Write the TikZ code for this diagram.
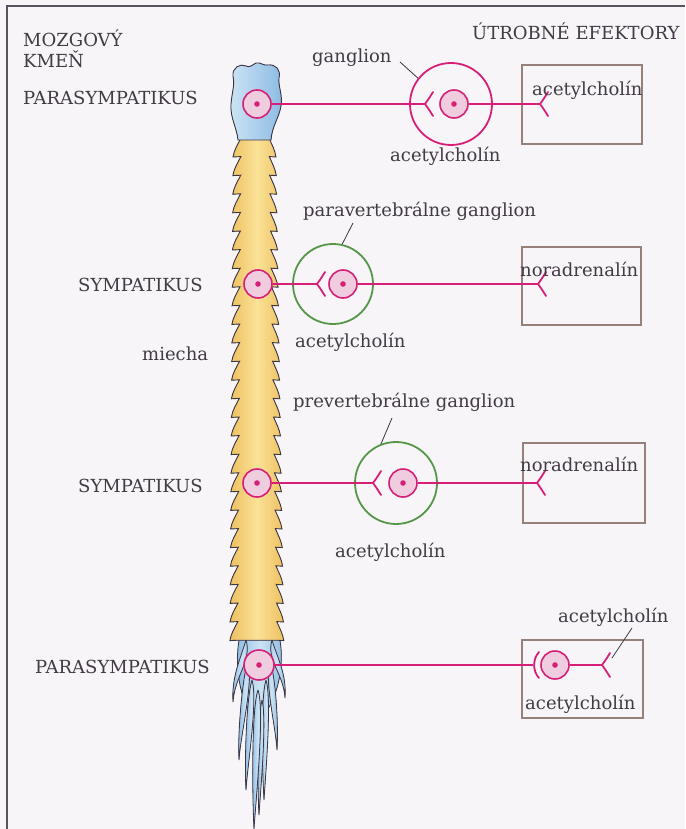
\documentclass[tikz,border=0pt]{standalone}
\usepackage{fontspec}
\setmainfont{DejaVu Serif}
\usepackage{xcolor}
\usepackage{tikz}
\definecolor{nvmagenta}{RGB}{214, 32, 120}
\definecolor{nvpink}{RGB}{240, 205, 222}
\definecolor{nvgreen}{RGB}{86, 150, 72}
\definecolor{nvbox}{RGB}{150, 128, 122}
\definecolor{nvtext}{RGB}{66, 58, 68}
\definecolor{nvline}{RGB}{58, 54, 68}
\definecolor{cordlight}{RGB}{250, 226, 152}
\definecolor{corddark}{RGB}{238, 192, 96}
\definecolor{stemlight}{RGB}{204, 228, 244}
\definecolor{stemdark}{RGB}{140, 186, 228}
\definecolor{paper}{RGB}{247, 245, 247}

\begin{document}
\begin{tikzpicture}[x=1pt, y=-1pt,
  lbl/.style={anchor=base west, inner sep=0pt, text=nvtext, font=\fontsize{18}{20}\selectfont},
  cell/.style={circle, draw=nvmagenta, fill=nvpink, line width=1.6pt, minimum size=28pt, inner sep=0pt},
  ganglion/.style={circle, line width=1.8pt, minimum size=80pt, inner sep=0pt},
  effbox/.style={draw=nvbox, line width=1.2pt, inner sep=0pt},
  axon/.style={nvmagenta, line width=1.8pt},
  leader/.style={nvline, line width=0.8pt},
  cauda/.style={draw=nvline, line width=0.8pt, left color=stemdark, right color=stemdark, middle color=stemlight},
  synfork/.pic={\draw[axon, line cap=round] (8,-12) .. controls (3,-4) .. (0,0) .. controls (3,4) .. (8,12);},
  synbracket/.pic={\draw[axon, line cap=round] (6,-13) .. controls (-0.5,-6) and (-0.5,6) .. (6,13);}]
\useasboundingbox (0,0) rectangle (685,829);
\fill[paper] (0,0) rectangle (685,829);
\draw[nvline!85, line width=1.2pt] (7,829) -- (7,6) -- (685,6);

% Cauda equina
\filldraw[cauda] (241,632) .. controls (235,650) and (236,690) .. (250,712)
  -- (266,712) .. controls (281,690) and (285,655) .. (278,632) -- cycle;
\foreach \xa/\ya/\xb/\yb/\w in {246/640/233/702/6, 272/640/285/698/6,
                                248/660/239/760/6, 270/660/277/750/6,
                                252/680/246/790/6, 266/680/264/800/6,
                                262/700/259/815/5, 258/690/254/829/7} {
  \filldraw[cauda] (\xa,\ya) .. controls ({\xa-\w},{\ya+20}) and ({\xb-1.5},{\yb-25}) .. (\xb,\yb)
    .. controls ({\xb+1.5},{\yb-25}) and ({\xa+\w},{\ya+20}) .. (\xa,\ya);
}

% Spinal cord, barbed edges
\filldraw[draw=nvline, line width=0.9pt, left color=corddark, right color=corddark, middle color=cordlight]
  (241,138)
  \foreach \i in {0,...,26} {
    .. controls ({241-0.12*\i-3},{138+18.6*\i+6}) and ({241-0.12*\i-7},{138+18.6*\i+12})
    .. ({241-0.12*\i-8},{138+18.6*\i+19})
    -- ({241-0.12*(\i+1)},{138+18.6*(\i+1)})
  }
  -- ({269+0.3*27},{138+18.6*27})
  \foreach \i in {26,25,...,0} {
    -- ({269+0.3*\i+7},{138+18.6*\i+19})
    .. controls ({269+0.3*\i+6},{138+18.6*\i+12}) and ({269+0.3*\i+2.5},{138+18.6*\i+6})
    .. ({269+0.3*\i},{138+18.6*\i})
  }
  -- cycle;

% Brain stem
\filldraw[draw=nvline, line width=0.9pt, left color=stemlight, right color=stemdark]
  (238,140) .. controls (237,128) and (230,118) .. (231,104)
  .. controls (232,92) and (235,85) .. (233,76)
  .. controls (232,68) and (240,63) .. (246,66)
  .. controls (250,68) and (252,65) .. (256,63)
  .. controls (261,62) and (263,66) .. (268,65)
  .. controls (276,64) and (281,70) .. (279,78)
  .. controls (278,86) and (283,96) .. (281,106)
  .. controls (279,118) and (272,126) .. (271,140) -- cycle;

% Ganglia
\node[ganglion, draw=nvmagenta, minimum size=82pt] (g1) at (451,104) {};
\node[ganglion, draw=nvgreen] (g2) at (333,284) {};
\node[ganglion, draw=nvgreen, minimum size=82pt] (g3) at (396,483) {};

% Effector boxes
\node[effbox, minimum width=120pt, minimum height=79pt] (b1) at (582,104.5) {};
\node[effbox, minimum width=119pt, minimum height=78pt] (b2) at (581.5,286) {};
\node[effbox, minimum width=122pt, minimum height=80pt] (b3) at (584,483) {};
\node[effbox, minimum width=121pt, minimum height=78pt] (b4) at (582.5,679) {};

% Neurons in the cord and in the ganglia
\node[cell] (c0) at (257,104) {};
\node[cell] (c1) at (258,284) {};
\node[cell] (c2) at (257,483) {};
\node[cell, minimum size=30pt] (c3) at (259,665) {};
\node[cell] (k1) at (454,104) {};
\node[cell] (k2) at (343,284) {};
\node[cell] (k3) at (403,483) {};
\node[cell] (k4) at (555,665) {};
\foreach \c in {c0,c1,c2,c3,k1,k2,k3,k4} {
  \fill[nvmagenta] (\c) circle (2.8pt);
}

% Synapses
\coordinate (f1) at (425,104);
\coordinate (e1) at (540,104);
\coordinate (f2) at (317,284);
\coordinate (e2) at (538,284);
\coordinate (f3) at (373,483);
\coordinate (e3) at (537,483);
\coordinate (f4) at (533,665);
\coordinate (e4) at (602,665);
\foreach \s in {f1,e1,f2,e2,f3,e3,e4} {
  \pic at (\s) {synfork};
}
\pic at (f4) {synbracket};

% Axons
\draw[axon] (c0.east) -- (f1);
\draw[axon] (k1.east) -- (e1);
\draw[axon] (c1.east) -- (f2);
\draw[axon] (k2.east) -- (e2);
\draw[axon] (c2.east) -- (f3);
\draw[axon] (k3.east) -- (e3);
\draw[axon] (c3.east) -- (f4);
\draw[axon] (k4.east) -- (e4);

% Labels
\node[lbl] (mozg) at (23,47) {MOZGOVÝ};
\node[lbl] (kmen) at (23,68) {KMEŇ};
\node[lbl] (para1) at (23,105) {PARASYMPATIKUS};
\node[lbl] (utrob) at (472,40) {ÚTROBNÉ EFEKTORY};
\node[lbl] (gname1) at (312,63) {ganglion};
\node[lbl] (ach1) at (532,96) {acetylcholín};
\node[lbl] (ach2) at (390,162) {acetylcholín};
\node[lbl] (sym1) at (78,291) {SYMPATIKUS};
\node[lbl] (gname2) at (303,216) {paravertebrálne ganglion};
\node[lbl] (nor1) at (520,276) {noradrenalín};
\node[lbl] (ach3) at (295,347) {acetylcholín};
\node[lbl] (miecha) at (142,360) {miecha};
\node[lbl] (gname3) at (293,407) {prevertebrálne ganglion};
\node[lbl] (nor2) at (520,471) {noradrenalín};
\node[lbl] (sym2) at (78,492) {SYMPATIKUS};
\node[lbl] (ach4) at (335,557) {acetylcholín};
\node[lbl] (ach5) at (558,622) {acetylcholín};
\node[lbl] (para2) at (35,673) {PARASYMPATIKUS};
\node[lbl] (ach6) at (525,709) {acetylcholín};

% Pointer lines
\coordinate (t1) at (400,62);
\coordinate (t2) at (353,223);
\coordinate (t3) at (392,418);
\coordinate (t4) at (632,628);
\coordinate (t4e) at (612,658);
\draw[leader] (t1) -- (g1.142);
\draw[leader] (t2) -- (g2.77);
\draw[leader] (t3) -- (g3.111);
\draw[leader] (t4) -- (t4e);
\end{tikzpicture}
\end{document}
